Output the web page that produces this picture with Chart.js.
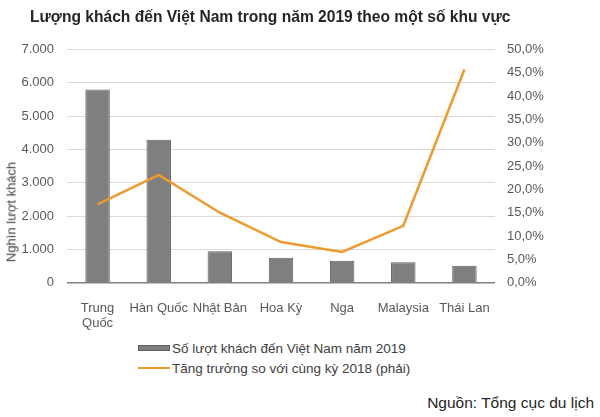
<!DOCTYPE html>
<html>
<head>
<meta charset="utf-8">
<script src="https://cdn.jsdelivr.net/npm/chart.js@4"></script>
<style>
  body { margin: 0; background: #fff; font-family: 'Liberation Sans', Arial, sans-serif; }
  #wrap { position: relative; width: 600px; height: 417px; overflow: hidden; }
  #chartBox { position: absolute; left: 0; top: 0; width: 600px; height: 330px; }
  #title { position: absolute; left: 30px; top: 8px; font-size: 15.6px; font-weight: bold; color: #262626; white-space: nowrap; }
  #yTitle { position: absolute; left: 11px; top: 212px; font-size: 13px; color: #404040; white-space: nowrap;
            transform: translate(-50%, -50%) rotate(-90deg); }
  .legendRow { position: absolute; left: 138px; height: 16px; display: flex; align-items: center; font-size: 13.5px; color: #404040; white-space: nowrap; }
  .legendRow .icon { width: 32px; margin-right: 2px; }
  #source { position: absolute; right: 6px; top: 394px; font-size: 15.5px; color: #262626; }
</style>
</head>
<body>
<div id="wrap">
  <div id="chartBox"><canvas id="chart"></canvas></div>
  <div id="title">Lượng khách đến Việt Nam trong năm 2019 theo một số khu vực</div>
  <div id="yTitle">Nghìn lượt khách</div>
  <div id="legend"></div>
  <div id="source">Nguồn: Tổng cục du lịch</div>
</div>
<script>
const categories = [['Trung', 'Quốc'], 'Hàn Quốc', 'Nhật Bản', 'Hoa Kỳ', 'Nga', 'Malaysia', 'Thái Lan'];
const visitors = [5800, 4290, 940, 750, 660, 610, 510];   // nghìn lượt khách
const growth = [16.8, 23.1, 15.0, 8.7, 6.6, 12.2, 45.7];   // %
const visitorsLabel = 'Số lượt khách đến Việt Nam năm 2019';
const growthLabel = 'Tăng trưởng so với cùng kỳ 2018 (phải)';

const barColor = '#7f7f7f';
const lineColor = '#ee9a2e';

Chart.defaults.font.family = "'Liberation Sans', Arial, sans-serif";
Chart.defaults.font.size = 13;
Chart.defaults.color = '#595959';

const chart = new Chart(document.getElementById('chart').getContext('2d'), {
    type: 'bar',
    data: {
        labels: categories,
        datasets: [
            { type: 'line', label: growthLabel, data: growth, yAxisID: 'y1', order: 0,
              borderColor: lineColor, borderWidth: 2.5, pointRadius: 0, tension: 0, fill: false },
            { type: 'bar', label: visitorsLabel, data: visitors, yAxisID: 'y', order: 1,
              backgroundColor: barColor, borderColor: '#606060', borderWidth: 1,
              categoryPercentage: 1, barPercentage: 0.4 }
        ]
    },
    options: {
        responsive: true,
        maintainAspectRatio: false,
        animation: false,
        layout: { padding: { top: 49.4, left: 0, right: 0, bottom: 0 } },
        scales: {
            x: {
                grid: { display: false },
                border: { display: false },
                ticks: { maxRotation: 0, autoSkip: false, padding: 10, font: { size: 13, lineHeight: 1.15 } },
                afterFit: s => { s.height = 330 - 282.7; }
            },
            y: {
                position: 'left',
                min: 0, max: 7000,
                grid: { color: c => c.tick.value === 0 ? '#808080' : '#d9d9d9', lineWidth: c => c.tick.value === 0 ? 1.5 : 1, drawTicks: false },
                border: { display: false },
                ticks: { stepSize: 1000, padding: 13, callback: v => v.toLocaleString('de-DE') },
                afterFit: s => { s.width = 67; }
            },
            y1: {
                position: 'right',
                min: 0, max: 50,
                grid: { display: false, drawTicks: false },
                border: { display: false },
                ticks: { stepSize: 5, padding: 12, callback: v => v.toFixed(1).replace('.', ',') + '%' },
                afterFit: s => { s.width = 105; }
            }
        },
        plugins: { legend: { display: false }, tooltip: { enabled: false } }
    }
});

// legend built from the datasets
const legendRows = [
    { ds: chart.data.datasets[1], top: 340 },
    { ds: chart.data.datasets[0], top: 360 }
];
legendRows.forEach(r => {
    const row = document.createElement('div');
    row.className = 'legendRow';
    row.style.top = r.top + 'px';
    const icon = document.createElement('span');
    icon.className = 'icon';
    if (r.ds.type === 'bar') {
        icon.style.height = '6px';
        icon.style.background = r.ds.backgroundColor;
        icon.style.border = '1px solid #606060';
        icon.style.boxSizing = 'border-box';
    } else {
        icon.style.height = '2.5px';
        icon.style.background = r.ds.borderColor;
    }
    row.appendChild(icon);
    row.appendChild(document.createTextNode(r.ds.label));
    document.getElementById('legend').appendChild(row);
});
</script>
</body>
</html>
